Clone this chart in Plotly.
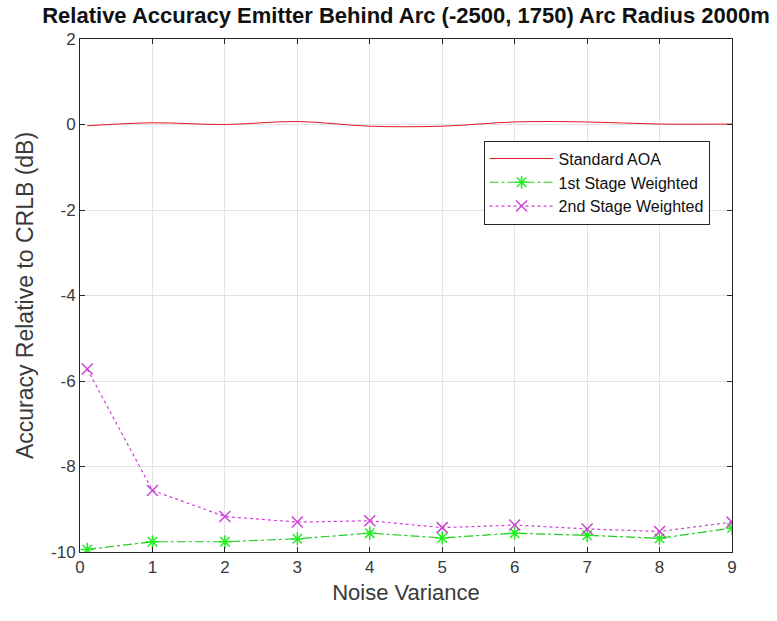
import plotly.graph_objects as go

noise_variance = [0.1, 1, 2, 3, 4, 5, 6, 7, 8, 9]
standard_aoa = [-0.03, 0.04, 0.0, 0.07, -0.04, -0.04, 0.06, 0.06, 0.01, 0.01]
first_stage = [-9.94, -9.76, -9.76, -9.69, -9.56, -9.67, -9.56, -9.61, -9.68, -9.44]
second_stage = [-5.72, -8.56, -9.17, -9.30, -9.27, -9.43, -9.37, -9.46, -9.52, -9.30]

x_ticks = [0, 1, 2, 3, 4, 5, 6, 7, 8, 9]
y_ticks = [2, 0, -2, -4, -6, -8, -10]
y_tick_labels = ["2", "0", "-2", "-4", "-6", "-8", "-10"]

title_text = "Relative Accuracy Emitter Behind Arc (-2500, 1750) Arc Radius 2000m"
x_title = "Noise Variance"
y_title = "Accuracy Relative to CRLB (dB)"

FONT = "Liberation Sans, Arial, sans-serif"

fig = go.Figure()
fig.add_trace(go.Scatter(
    x=noise_variance, y=standard_aoa, name="Standard AOA", mode="lines",
    line=dict(color="#e01a22", width=1, shape="spline"),
))
fig.add_trace(go.Scatter(
    x=noise_variance, y=first_stage, name="1st Stage Weighted", mode="lines+markers",
    line=dict(color="#22cc22", width=1.2, dash="dashdot"),
    marker=dict(symbol="asterisk-open", size=11, color="#22ee22",
                line=dict(color="#22ee22", width=1.5)),
))
fig.add_trace(go.Scatter(
    x=noise_variance, y=second_stage, name="2nd Stage Weighted", mode="lines+markers",
    line=dict(color="#d040d8", width=1.2, dash="dot"),
    marker=dict(symbol="x-thin-open", size=11, color="#cc44d4",
                line=dict(color="#cc44d4", width=1.5)),
))

axis_common = dict(
    showgrid=True, gridcolor="#e3e3e3", gridwidth=1,
    showline=True, linecolor="#262626", linewidth=1, mirror="ticks",
    ticks="inside", ticklen=5, tickcolor="#262626",
    zeroline=False,
    tickfont=dict(family=FONT, size=17, color="#3a3a3a"),
)

fig.update_layout(
    width=777, height=621,
    margin=dict(l=80, r=45, t=39, b=69),
    paper_bgcolor="white", plot_bgcolor="white",
    title=dict(text="<b>" + title_text + "</b>", xref="paper", x=0.5, xanchor="center",
               y=0.975, yanchor="middle",
               font=dict(family=FONT, size=22, color="#111111")),
    xaxis=dict(range=[0, 9], tickvals=x_ticks,
               title=dict(text=x_title, font=dict(family=FONT, size=22, color="#3a3a3a"), standoff=8),
               **axis_common),
    yaxis=dict(range=[-10, 2], tickvals=y_ticks, ticktext=y_tick_labels,
               title=dict(text=y_title, font=dict(family=FONT, size=23, color="#3a3a3a"), standoff=10),
               **axis_common),
    legend=dict(x=0.619, y=0.802, xanchor="left", yanchor="top",
                bgcolor="white", bordercolor="#262626", borderwidth=1,
                font=dict(family=FONT, size=16, color="#111111"),
                itemwidth=64, tracegroupgap=0),
    showlegend=True,
)

fig.write_html("out.html")
